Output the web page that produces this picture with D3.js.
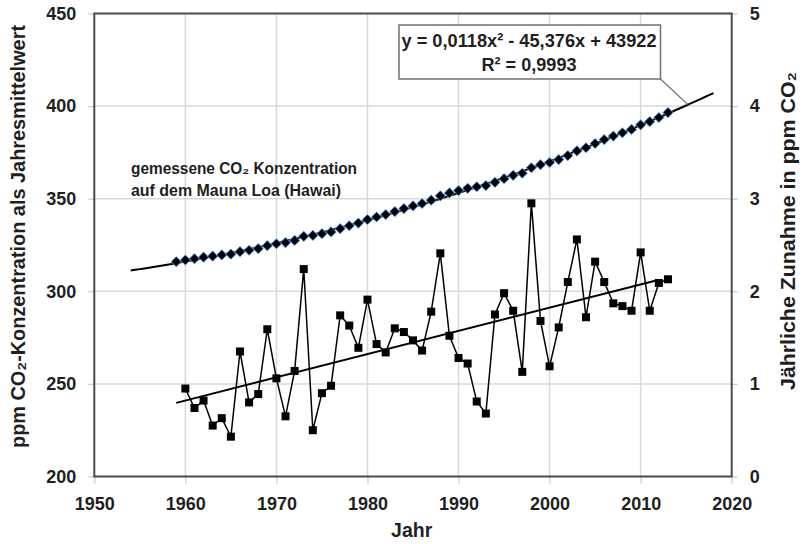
<!DOCTYPE html>
<html>
<head>
<meta charset="utf-8">
<script src="https://cdn.jsdelivr.net/npm/d3@7"></script>
<style>
  body { margin: 0; background: #fff; }
  svg { display: block; }
</style>
</head>
<body>
<svg id="chart" width="803" height="544"></svg>
<script>
// Mauna Loa annual means (ppm)
const years = [1959, 1960, 1961, 1962, 1963, 1964, 1965, 1966, 1967, 1968, 1969,
  1970, 1971, 1972, 1973, 1974, 1975, 1976, 1977, 1978, 1979,
  1980, 1981, 1982, 1983, 1984, 1985, 1986, 1987, 1988, 1989,
  1990, 1991, 1992, 1993, 1994, 1995, 1996, 1997, 1998, 1999,
  2000, 2001, 2002, 2003, 2004, 2005, 2006, 2007, 2008, 2009,
  2010, 2011, 2012, 2013];
const co2 = [315.97, 316.91, 317.64, 318.45, 318.99, 319.62, 320.04, 321.38, 322.16, 323.04, 324.62,
  325.68, 326.32, 327.45, 329.68, 330.18, 331.11, 332.04, 333.83, 335.40, 336.84,
  338.75, 340.11, 341.45, 343.05, 344.65, 346.12, 347.42, 349.19, 351.57, 353.12,
  354.39, 355.61, 356.45, 357.10, 358.83, 360.82, 362.61, 363.73, 366.70, 368.38,
  369.55, 371.14, 373.28, 375.80, 377.52, 379.80, 381.90, 383.79, 385.60, 387.43,
  389.90, 391.65, 393.85, 396.52];

// yearly increase (ppm), right axis
const growthYears = [1960, 1961, 1962, 1963, 1964, 1965, 1966, 1967, 1968, 1969,
  1970, 1971, 1972, 1973, 1974, 1975, 1976, 1977, 1978, 1979,
  1980, 1981, 1982, 1983, 1984, 1985, 1986, 1987, 1988, 1989,
  1990, 1991, 1992, 1993, 1994, 1995, 1996, 1997, 1998, 1999,
  2000, 2001, 2002, 2003, 2004, 2005, 2006, 2007, 2008, 2009,
  2010, 2011, 2012, 2013];
const growth = [0.95, 0.74, 0.82, 0.55, 0.63, 0.43, 1.35, 0.80, 0.89, 1.59,
  1.06, 0.65, 1.14, 2.24, 0.50, 0.90, 0.98, 1.74, 1.63, 1.39,
  1.91, 1.43, 1.34, 1.60, 1.56, 1.47, 1.36, 1.78, 2.41, 1.52,
  1.28, 1.22, 0.81, 0.68, 1.75, 1.98, 1.79, 1.13, 2.95, 1.68,
  1.19, 1.61, 2.10, 2.56, 1.72, 2.32, 2.10, 1.87, 1.84, 1.79,
  2.42, 1.79, 2.09, 2.13];

const xTicks = [1950, 1960, 1970, 1980, 1990, 2000, 2010, 2020];
const yTicks = [200, 250, 300, 350, 400, 450];
const y2Ticks = [0, 1, 2, 3, 4, 5];

const polyRange = [1954, 2018];     // extent of the quadratic trend line
const linRange = [1959, 2011.7];    // extent of the linear trend line
const calloutYear = 2015.2;         // where the equation label points to

const yLabel = "ppm CO₂-Konzentration als Jahresmittelwert";
const y2Label = "Jährliche Zunahme in ppm CO₂";
const xLabel = "Jahr";
const noteLines = ["gemessene CO₂ Konzentration", "auf dem Mauna Loa (Hawai)"];
const eqLines = ["y = 0,0118x² - 45,376x + 43922", "R² = 0,9993"];

const FONT = "'Liberation Sans', Arial, sans-serif";
const NARROW = "'Liberation Sans Narrow', 'Liberation Sans', Arial, sans-serif";
const TEXT = "#1f1f1f";

const svg = d3.select("#chart");
const plotLeft = 94.3, plotRight = 731.7, plotTop = 13.5, plotBottom = 476.5;

const x = d3.scaleLinear().domain([1950, 2020]).range([plotLeft, plotRight]);
const y = d3.scaleLinear().domain([200, 450]).range([plotBottom, plotTop]);
const y2 = d3.scaleLinear().domain([0, 5]).range([plotBottom, plotTop]);

// least squares fits
function fitQuadratic(xs, ys) {
  const m = d3.mean(xs);
  let s = [0, 0, 0, 0, 0], t = [0, 0, 0];
  xs.forEach((v, i) => {
    const u = v - m;
    for (let k = 0; k < 5; k++) s[k] += Math.pow(u, k);
    for (let k = 0; k < 3; k++) t[k] += ys[i] * Math.pow(u, k);
  });
  // gaussian elimination on 3x3
  const A = [[s[0], s[1], s[2], t[0]], [s[1], s[2], s[3], t[1]], [s[2], s[3], s[4], t[2]]];
  for (let i = 0; i < 3; i++) {
    for (let j = i + 1; j < 3; j++) {
      const f = A[j][i] / A[i][i];
      for (let k = i; k < 4; k++) A[j][k] -= f * A[i][k];
    }
  }
  const c = [0, 0, 0];
  for (let i = 2; i >= 0; i--) {
    let v = A[i][3];
    for (let k = i + 1; k < 3; k++) v -= A[i][k] * c[k];
    c[i] = v / A[i][i];
  }
  return v => c[0] + c[1] * (v - m) + c[2] * (v - m) * (v - m);
}

function fitLinear(xs, ys) {
  const mx = d3.mean(xs), my = d3.mean(ys);
  let num = 0, den = 0;
  xs.forEach((v, i) => { num += (v - mx) * (ys[i] - my); den += (v - mx) * (v - mx); });
  const b = num / den;
  return v => my + b * (v - mx);
}

const quad = fitQuadratic(years, co2);
const lin = fitLinear(growthYears, growth);

// squeeze a label to the width it has in the chart
function label(sel, size, len) {
  sel.style("font-family", NARROW).style("font-size", size + "px")
    .style("font-weight", "bold").style("fill", TEXT)
    .attr("textLength", len).attr("lengthAdjust", "spacingAndGlyphs");
  return sel;
}

// grid
const grid = svg.append("g");
xTicks.slice(1, -1).forEach(t => {
  grid.append("line")
    .attr("x1", x(t)).attr("x2", x(t)).attr("y1", plotTop).attr("y2", plotBottom)
    .style("stroke", "#d9d9d9").style("stroke-width", 1.5);
});
yTicks.slice(1, -1).forEach(t => {
  grid.append("line")
    .attr("x1", plotLeft).attr("x2", plotRight).attr("y1", y(t)).attr("y2", y(t))
    .style("stroke", "#d9d9d9").style("stroke-width", 1.5);
});

// axes
function styleAxis(g) {
  g.select(".domain").remove();
  g.selectAll(".tick line").style("stroke", "#c8c8c8").style("stroke-width", 1.2);
  g.selectAll(".tick text")
    .style("font-family", FONT).style("font-size", "18px")
    .style("font-weight", "bold").style("fill", TEXT);
}

svg.append("g")
  .attr("transform", "translate(0," + plotBottom + ")")
  .call(d3.axisBottom(x).tickValues(xTicks).tickFormat(d3.format("d")).tickSize(7).tickPadding(14))
  .call(styleAxis);

svg.append("g")
  .attr("transform", "translate(" + plotLeft + ",0)")
  .call(d3.axisLeft(y).tickValues(yTicks).tickFormat(d3.format("d")).tickSize(6).tickPadding(12))
  .call(styleAxis);

svg.append("g")
  .attr("transform", "translate(" + plotRight + ",0)")
  .call(d3.axisRight(y2).tickValues(y2Ticks).tickFormat(d3.format("d")).tickSize(6).tickPadding(12))
  .call(styleAxis);

// plot border
svg.append("rect")
  .attr("x", plotLeft).attr("y", plotTop)
  .attr("width", plotRight - plotLeft).attr("height", plotBottom - plotTop)
  .style("fill", "none").style("stroke", "#4a4a4a").style("stroke-width", 2);

// quadratic trend
const line = d3.line().x(d => x(d[0])).y(d => y(d[1]));
const polyPts = d3.range(polyRange[0], polyRange[1] + 0.01, 0.5).map(v => [v, quad(v)]);
svg.append("path")
  .attr("d", line(polyPts))
  .style("fill", "none").style("stroke", "#000").style("stroke-width", 2);

// measured CO2, diamonds
svg.append("g").selectAll("path")
  .data(years.map((v, i) => [v, co2[i]]))
  .join("path")
  .attr("transform", d => "translate(" + x(d[0]) + "," + y(d[1]) + ")")
  .attr("d", "M0,-4.6L4.6,0L0,4.6L-4.6,0Z")
  .style("fill", "#000")
  .style("stroke", "#4f93e0")
  .style("stroke-width", 1.4)
  .style("paint-order", "stroke");

// linear trend of increase
const line2 = d3.line().x(d => x(d[0])).y(d => y2(d[1]));
svg.append("path")
  .attr("d", line2([[linRange[0], lin(linRange[0])], [linRange[1], lin(linRange[1])]]))
  .style("fill", "none").style("stroke", "#000").style("stroke-width", 2);

// yearly increase
const gPts = growthYears.map((v, i) => [v, growth[i]]);
svg.append("path")
  .attr("d", line2(gPts))
  .style("fill", "none").style("stroke", "#000").style("stroke-width", 1.5);
svg.append("g").selectAll("rect")
  .data(gPts)
  .join("rect")
  .attr("x", d => x(d[0]) - 4).attr("y", d => y2(d[1]) - 4)
  .attr("width", 8).attr("height", 8)
  .style("fill", "#000");

// equation callout
svg.append("line")
  .attr("x1", 660.5).attr("y1", 79)
  .attr("x2", x(calloutYear)).attr("y2", y(quad(calloutYear)))
  .style("stroke", "#6e6e6e").style("stroke-width", 1.2);
svg.append("rect")
  .attr("x", 399).attr("y", 25).attr("width", 261.5).attr("height", 54)
  .style("fill", "#fff").style("stroke", "#707070").style("stroke-width", 1.5);

const eqBase = [46.5, 71], eqWidths = [255, 95];
eqLines.forEach((s, i) => {
  svg.append("text")
    .attr("x", 529).attr("y", eqBase[i]).attr("text-anchor", "middle")
    .text(s)
    .call(label, 19, eqWidths[i]);
});

// annotation
const noteWidths = [226, 210];
const noteBase = [173.5, 196];
noteLines.forEach((s, i) => {
  svg.append("text")
    .attr("x", 131).attr("y", noteBase[i])
    .text(s)
    .call(label, 16, noteWidths[i]);
});

// axis titles
svg.append("text")
  .attr("transform", "translate(25,236.5) rotate(-90)")
  .attr("text-anchor", "middle")
  .text(yLabel)
  .call(label, 21, 423);

svg.append("text")
  .attr("transform", "translate(795,231) rotate(-90)")
  .attr("text-anchor", "middle")
  .text(y2Label)
  .call(label, 21, 318);

svg.append("text")
  .attr("x", 411.7).attr("y", 536.5).attr("text-anchor", "middle")
  .style("font-family", FONT).style("font-size", "19.5px").style("font-weight", "bold").style("fill", TEXT)
  .text(xLabel);
</script>
</body>
</html>
